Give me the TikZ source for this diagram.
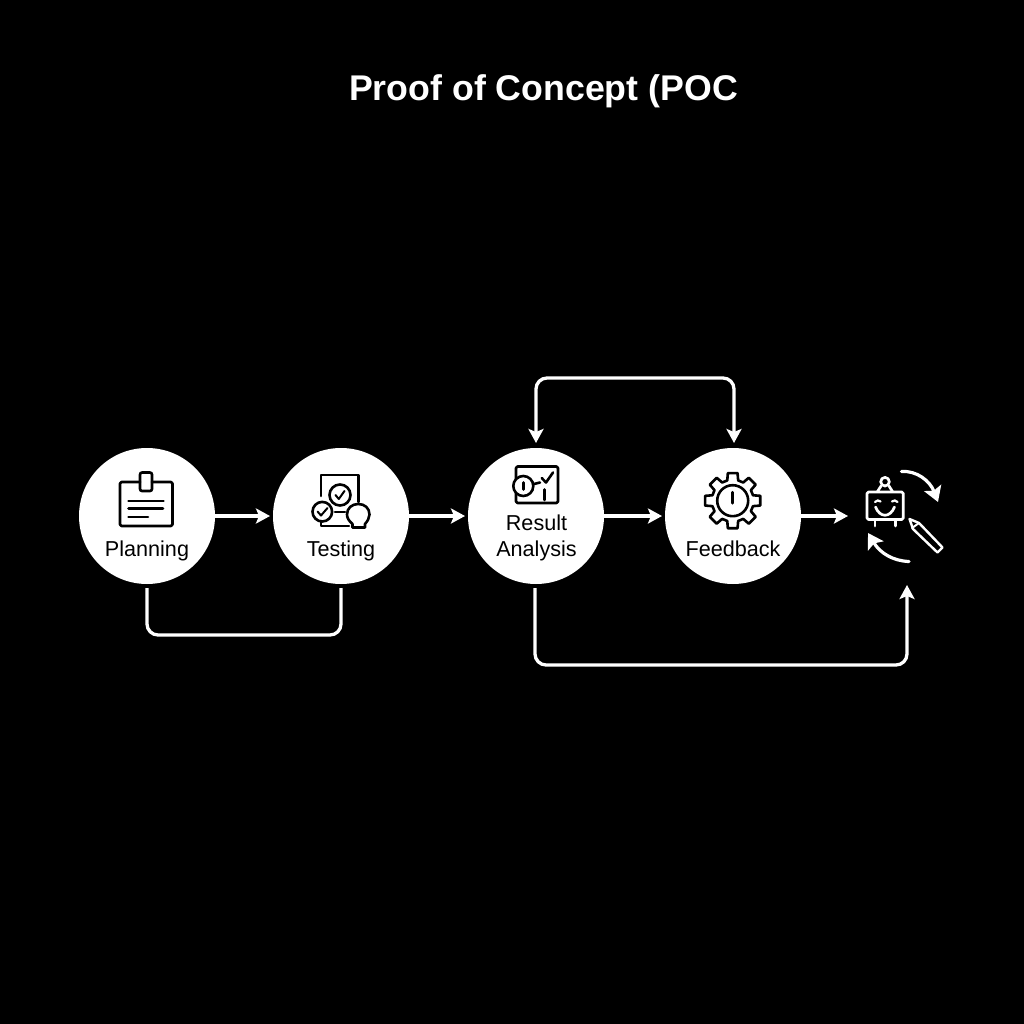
\documentclass[tikz,border=0pt]{standalone}
\usepackage{fontspec}
\setmainfont{Liberation Sans}
\usetikzlibrary{arrows.meta}
\tikzset{
  stage/.style={circle,fill=white,draw=none,minimum size=136pt,inner sep=0pt,outer sep=0pt},
  lbl/.style={text=black,font=\fontsize{21.6}{24}\selectfont,inner sep=0pt,anchor=base},
  conn/.style={draw=white,line width=3.3pt,line join=round},
  arr/.style={conn,-{Stealth[length=14pt,width=15pt,inset=3pt]}},
  icon/.style={draw=black,line width=2.6pt,line join=round,line cap=round},
  iconw/.style={draw=white,line width=2.7pt,line join=round,line cap=round},
  whitearr/.style={draw=white,line width=3.2pt,line cap=round,-{Stealth[length=15pt,width=18pt,inset=3pt]}}
}
\begin{document}
\begin{tikzpicture}[x=1pt,y=-1pt]
\path[fill=black,use as bounding box] (0,0) rectangle (1024,1024);
\node[text=white,font=\bfseries\fontsize{35.7}{40}\selectfont,inner sep=0pt,anchor=base] (title) at (543.5,101) {Proof of Concept (POC};
\node[stage] (plan) at (147,516) {};
\node[stage] (test) at (341,516) {};
\node[stage] (res) at (536,516) {};
\node[stage] (fb) at (733,516) {};
\coordinate (botin) at (851,516);
\coordinate (botlow) at (907,585);
% labels
\node[lbl] (lplan) at (147,556) {Planning};
\node[lbl] (ltest) at (341,556) {Testing};
\node[lbl] (lres1) at (536.5,530) {Result};
\node[lbl] (lres2) at (536.5,556) {Analysis};
\node[lbl] (lfb) at (733,556) {Feedback};
% connectors
\draw[arr,shorten >=3pt] (plan) -- (test);
\draw[arr,shorten >=3pt] (test) -- (res);
\draw[arr,shorten >=3pt] (res) -- (fb);
\draw[arr,shorten >=3pt] (fb) -- (botin);
\draw[conn,rounded corners=11pt] ([yshift=-4pt]plan.south) -- ++(0,47) -| ([yshift=-4pt]test.south);
\draw[conn,{Stealth[length=14pt,width=15pt,inset=3pt]}-{Stealth[length=14pt,width=15pt,inset=3pt]},rounded corners=11pt] ([yshift=5pt]res.north) -- ++(0,-65) -| ([yshift=5pt,xshift=1pt]fb.north);
\draw[arr,rounded corners=11pt] ([xshift=-1pt,yshift=-4pt]res.south) -- ++(0,77) -| (botlow);
% planning icon
\draw[icon,rounded corners=1.5pt] (140,482) -- (120,482) -- (120,526) -- (172.5,526) -- (172.5,482) -- (152,482);
\draw[icon,rounded corners=2pt] (140,472.5) rectangle (152,491);
\draw[icon] (128.5,501) -- (163.5,501) (128.5,508.7) -- (163,508.7) (128.5,517) -- (148,517);
% testing icon
\draw[icon] (321,496) -- (321,475) -- (358.5,475) -- (358.5,502);
\draw[icon] (321,521) -- (321,526) -- (349,526);
\draw[icon] (340,495) circle (10.5);
\draw[icon,line width=2pt] (335.5,495) -- (338.8,499) -- (344.5,491);
\draw[icon] (322.3,511.7) circle (9.8);
\draw[icon,line width=2pt] (317.5,511.5) -- (321,515.5) -- (327.5,508);
\draw[icon] (335,512) -- (345,512);
\draw[icon] (352.5,527.5) -- (352.5,524) .. controls (349,521) and (347,518) .. (347,514.5) .. controls (347,508) and (352,504) .. (358.3,504) .. controls (364.5,504) and (369.5,508) .. (369.5,514.5) .. controls (369.5,518) and (367.5,521) .. (365,524) -- (365,527.5) -- cycle;
% result icon
\draw[icon,rounded corners=1.5pt] (516,466.5) rectangle (558,503);
\draw[icon,fill=white] (523.3,486) circle (10);
\draw[icon] (523.3,482.5) -- (523.3,489.5);
\draw[icon] (534,484) -- (540,482.5);
\draw[icon] (541.7,478) -- (546,482.5) -- (553,472.5);
\draw[icon] (544.3,489.5) -- (544.3,500);
% feedback icon
\begin{scope}[shift={(732.7,500.7)}]
\draw[icon] (75:21) \foreach \a in {90,135,...,405}{
  -- (\a-15:21) -- (\a-10:28) -- (\a+10:28) -- (\a+15:21)
} -- cycle;
\draw[icon] (0,0) circle (15.5);
\draw[icon] (0,-8.5) -- (0,2.5);
\end{scope}
% bot icon
\draw[iconw,rounded corners=1.5pt] (867,492) rectangle (903.3,519.5);
\draw[iconw] (875,520) -- (875,526) (895.7,520) -- (895.7,526);
\draw[iconw] (885,481.7) circle (4.3);
\draw[iconw] (877.5,491.5) -- (881,486) (892.5,491.5) -- (889,486);
\draw[iconw,line width=2.2pt] (875,502) .. controls (876.5,500) and (879,500) .. (880.5,501.5);
\draw[iconw,line width=2.2pt] (892,501.5) .. controls (893.5,500) and (896,500) .. (897.5,502);
\draw[iconw] (875.5,507) .. controls (880,518) and (890,518) .. (894.5,507);
% cycle arrows
\draw[whitearr] (901.5,471.5) .. controls (917,470.5) and (930,481) .. (938,502);
\draw[whitearr] (909,561.5) .. controls (893,561) and (880,553) .. (868,533);
% pencil
\draw[iconw,line width=2.4pt] (909.5,519) -- (919,523) -- (942.5,547.5) -- (937.5,552.5) -- (913,529) -- cycle;
\draw[iconw,line width=2pt] (912,528) -- (919,523);
\end{tikzpicture}
\end{document}
